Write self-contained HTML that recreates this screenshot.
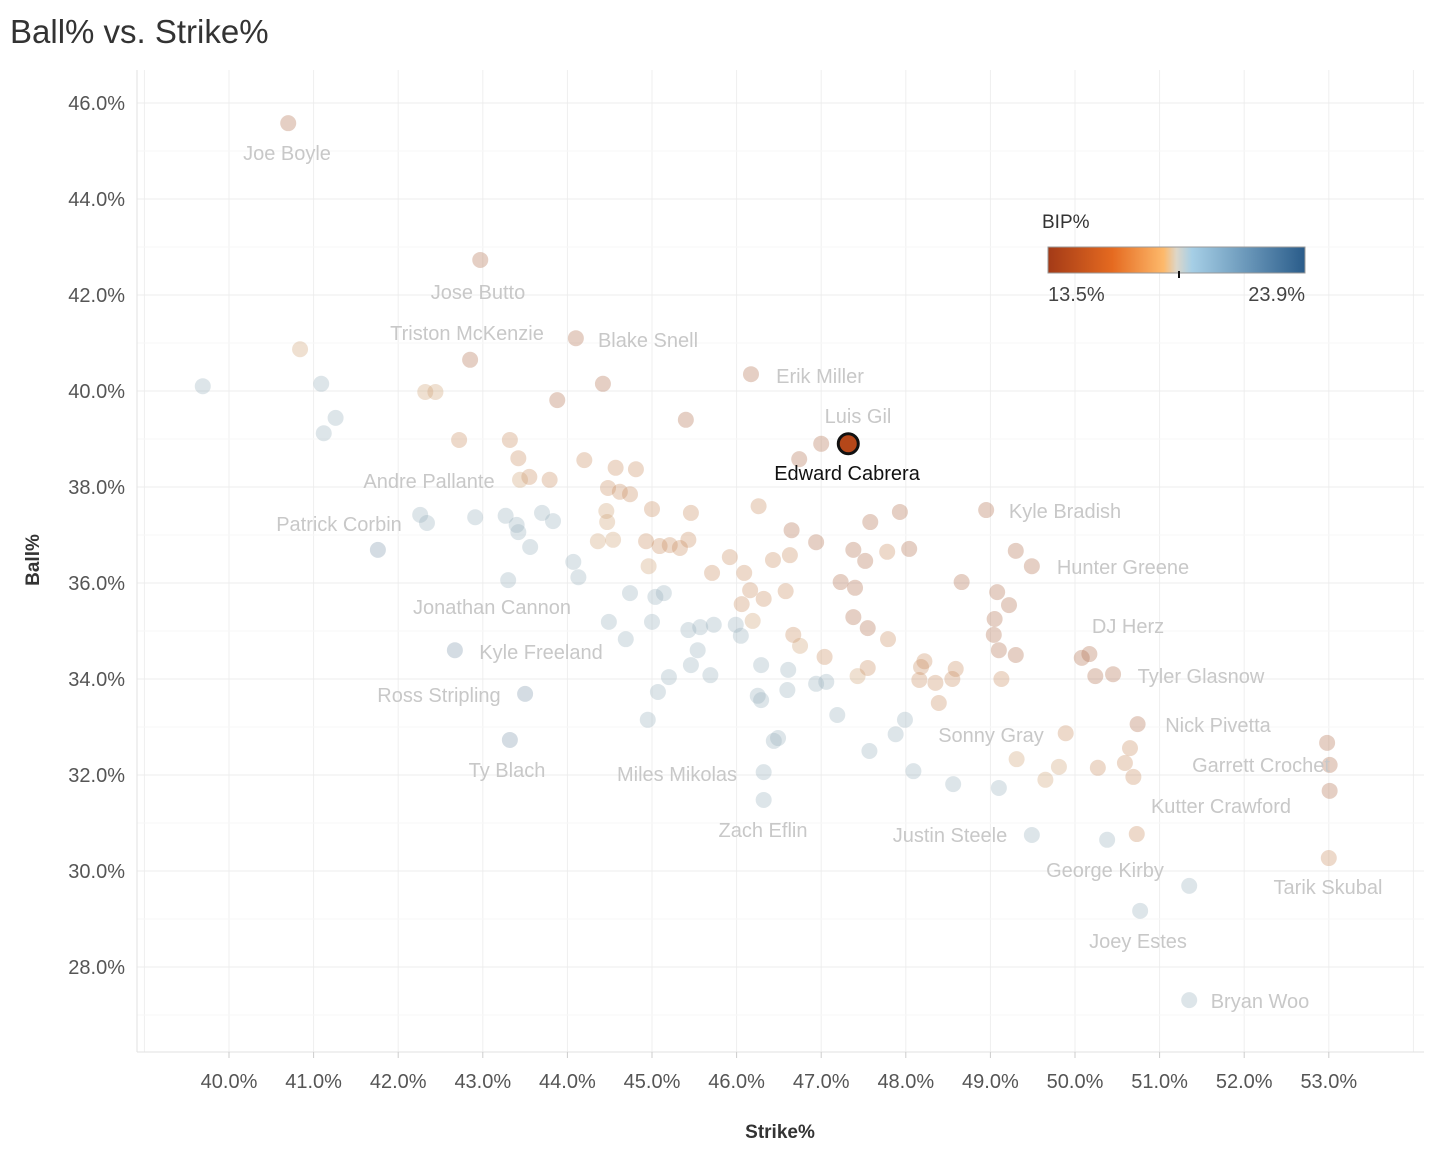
<!DOCTYPE html>
<html><head><meta charset="utf-8">
<style>
html,body{margin:0;padding:0;background:#fff;}
body{width:1448px;height:1160px;overflow:hidden;font-family:"Liberation Sans",sans-serif;}
svg text{font-family:"Liberation Sans",sans-serif;}
</style></head>
<body>
<svg id="chart" width="1448" height="1160" viewBox="0 0 1448 1160" xmlns="http://www.w3.org/2000/svg">
<defs>
<linearGradient id="bipgrad" x1="0" x2="1" y1="0" y2="0">
<stop offset="0" stop-color="#a33a17"/>
<stop offset="0.25" stop-color="#e56a20"/>
<stop offset="0.45" stop-color="#fdb96b"/>
<stop offset="0.5" stop-color="#ddd6c8"/>
<stop offset="0.56" stop-color="#a6cfe6"/>
<stop offset="1" stop-color="#2a5c8a"/>
</linearGradient>
</defs>
<text x="10" y="43" font-size="33" fill="#333">Ball% vs. Strike%</text>
<g id="grid"></g>
<g id="axes"></g>
<g id="points"></g>
<g id="labels"></g>
<text transform="translate(39,560) rotate(-90)" text-anchor="middle" font-size="19" font-weight="bold" fill="#333">Ball%</text>
<text x="780" y="1138" text-anchor="middle" font-size="19" font-weight="bold" fill="#333">Strike%</text>
<g>
<text x="1042" y="228" font-size="19" fill="#333">BIP%</text>
<rect x="1048" y="247" width="257" height="26" fill="url(#bipgrad)" stroke="#999" stroke-width="1"/>
<line x1="1179" x2="1179" y1="271" y2="278" stroke="#111" stroke-width="2"/>
<text x="1048" y="301" font-size="20" fill="#444">13.5%</text>
<text x="1305" y="301" text-anchor="end" font-size="20" fill="#444">23.9%</text>
</g>
</svg>
<script>
const xTicks = [40,41,42,43,44,45,46,47,48,49,50,51,52,53];
const yTicks = [28,30,32,34,36,38,40,42,44,46];
const strike = [40.70,42.97,44.10,44.42,42.85,46.17,45.40,43.88,47.00,46.74,47.58,47.93,48.04,46.65,46.94,48.95,49.30,49.49,48.66,49.08,49.22,49.05,49.04,49.10,49.30,50.08,50.17,50.24,50.45,50.74,52.98,53.01,53.01,47.38,47.52,47.40,47.23,47.55,47.38,
53.00,50.65,50.59,50.69,50.27,49.89,50.73,49.13,48.39,48.35,48.16,48.18,48.22,48.55,48.59,47.78,47.79,47.55,46.26,45.92,46.09,46.16,46.06,46.32,46.58,46.43,46.63,45.71,45.43,45.33,45.21,45.09,45.46,45.00,44.93,44.57,44.81,44.48,44.62,44.74,44.20,43.79,43.55,43.42,43.32,42.72,46.67,47.04,
49.31,49.81,49.65,42.32,42.44,40.84,44.46,44.47,44.54,47.43,46.75,46.19,44.96,43.44,44.36,
39.69,41.09,41.26,41.12,42.26,42.34,42.91,43.27,43.40,43.42,43.56,43.70,43.83,44.07,44.13,43.30,44.74,45.04,45.14,44.49,44.69,45.00,45.43,45.57,45.73,45.99,46.05,45.54,45.46,45.20,45.69,46.29,46.61,46.25,46.29,46.60,45.07,44.95,46.44,46.49,46.94,47.06,47.19,47.57,47.88,47.99,48.09,48.56,49.10,49.49,50.38,51.35,50.77,51.35,46.32,46.32,
41.76,42.67,43.50,43.32];
const ball = [45.58,42.73,41.10,40.15,40.65,40.35,39.40,39.81,38.90,38.58,37.27,37.48,36.71,37.10,36.85,37.52,36.67,36.35,36.02,35.81,35.54,35.25,34.92,34.60,34.50,34.44,34.52,34.06,34.10,33.06,32.67,32.21,31.67,36.69,36.46,35.90,36.02,35.06,35.29,
30.27,32.56,32.25,31.96,32.15,32.87,30.77,34.00,33.50,33.92,33.98,34.25,34.37,34.00,34.21,36.65,34.83,34.23,37.60,36.54,36.21,35.85,35.56,35.67,35.83,36.48,36.58,36.21,36.90,36.73,36.79,36.77,37.46,37.54,36.87,38.40,38.37,37.98,37.90,37.85,38.56,38.15,38.21,38.60,38.98,38.98,34.92,34.46,
32.33,32.17,31.90,39.98,39.98,40.87,37.50,37.27,36.90,34.06,34.69,35.21,36.35,38.15,36.87,
40.10,40.15,39.44,39.12,37.42,37.25,37.37,37.40,37.21,37.06,36.75,37.46,37.29,36.44,36.12,36.06,35.79,35.71,35.79,35.19,34.83,35.19,35.02,35.08,35.13,35.13,34.90,34.60,34.29,34.04,34.08,34.29,34.19,33.65,33.56,33.77,33.73,33.15,32.71,32.77,33.90,33.94,33.25,32.50,32.85,33.15,32.08,31.81,31.73,30.75,30.65,29.69,29.17,27.31,32.06,31.48,
36.69,34.60,33.69,32.73];
const bip = [].concat(
  Array(39).fill(14.8),
  Array(48).fill(16.8),
  Array(15).fill(17.8),
  Array(56).fill(19.8),
  Array(4).fill(21.5));
const highlightStrike = [47.32];
const highlightBall = [38.90];
const highlightBip = [14.2];

const NS = "http://www.w3.org/2000/svg";
function xScale(v){ return 229 + (v - 40) * 84.6; }
function yScale(v){ return 103 + (46 - v) * 48; }
const stops = [[0,[163,58,23]],[0.25,[229,106,32]],[0.45,[253,185,107]],[0.5,[221,214,200]],[0.56,[166,207,230]],[1,[42,92,138]]];
function colorFor(b, mute){
  let t = Math.max(0, Math.min(1, (b - 13.5) / (23.9 - 13.5)));
  for (let i = 1; i < stops.length; i++){
    if (t <= stops[i][0]){
      const a = stops[i-1], c = stops[i];
      const f = (t - a[0]) / (c[0] - a[0]);
      let rgb = a[1].map((v,k)=>Math.round(v + (c[1][k]-v)*f));
      if (mute) rgb = rgb.map(v => Math.round(v*0.6 + 140*0.4));
      return "rgb(" + rgb.join(",") + ")";
    }
  }
  return "rgb(42,92,138)";
}
function mk(tag, attrs, parent){
  const e = document.createElementNS(NS, tag);
  for (const k in attrs) e.setAttribute(k, attrs[k]);
  parent.appendChild(e);
  return e;
}
const grid = document.getElementById("grid");
const axes = document.getElementById("axes");
for (let v = 39; v <= 54; v++){
  const l = mk("line", {x1:xScale(v), x2:xScale(v), y1:70, y2:1052, stroke:"#efefef", "stroke-width":1}, grid);
  
  
}
for (let v = 27; v <= 46; v++){
  const l = mk("line", {x1:137, x2:1424, y1:yScale(v), y2:yScale(v), stroke: v % 2 === 0 ? "#ececec" : "#f7f7f7", "stroke-width":1}, grid);
  
  
}
const ax1 = mk("line", {x1:137, x2:137, y1:70, y2:1052, stroke:"#e2e2e2"}, axes);


const ax2 = mk("line", {x1:137, x2:1424, y1:1052, y2:1052, stroke:"#e2e2e2"}, axes);


xTicks.forEach(v => {
  const tk = mk("line", {x1:xScale(v), x2:xScale(v), y1:1052, y2:1058, stroke:"#ccc"}, axes);
  
  
  const t = mk("text", {x:xScale(v), y:1088, "text-anchor":"middle", "font-size":20, fill:"#555"}, axes);
  t.textContent = v.toFixed(1) + "%";
  
  
});
yTicks.forEach(v => {
  const t = mk("text", {x:125, y:yScale(v)+7, "text-anchor":"end", "font-size":20, fill:"#555"}, axes);
  t.textContent = v.toFixed(1) + "%";
  
  
});
const pts = document.getElementById("points");
strike.forEach((s, i) => {
  const c = mk("circle", {cx:xScale(s), cy:yScale(ball[i]), r:8, fill:colorFor(bip[i], true), "fill-opacity":0.32}, pts);
  
  
});
highlightStrike.forEach((s, i) => {
  const c = mk("circle", {cx:xScale(s), cy:yScale(highlightBall[i]), r:10, fill:colorFor(highlightBip[i], false), stroke:"#111", "stroke-width":3}, pts);
  
  
});
const labelNames = ["Joe Boyle","Jose Butto","Triston McKenzie","Blake Snell","Erik Miller","Luis Gil","Edward Cabrera","Andre Pallante","Patrick Corbin","Kyle Bradish","Hunter Greene","Jonathan Cannon","Kyle Freeland","DJ Herz","Tyler Glasnow","Ross Stripling","Nick Pivetta","Sonny Gray","Garrett Crochet","Ty Blach","Miles Mikolas","Kutter Crawford","Zach Eflin","Justin Steele","George Kirby","Tarik Skubal","Joey Estes","Bryan Woo"];
const labelPos = [[287,153],[478,292],[467,333],[648,340],[820,376],[858,416],[847,473],[429,481],[339,524],[1065,511],[1123,567],[492,607],[541,652],[1128,626],[1201,676],[439,695],[1218,725],[991,735],[1261,765],[507,770],[677,774],[1221,806],[763,830],[950,835],[1105,870],[1328,887],[1138,941],[1260,1001]];
const lbl = document.getElementById("labels");
labelNames.forEach((n, i) => {
  const t = mk("text", {x:labelPos[i][0], y:labelPos[i][1]+7, "text-anchor":"middle", "font-size":20, fill: n === "Edward Cabrera" ? "#111" : "#c8c8c8"}, lbl);
  t.textContent = n;
  
  
});
</script>
</body></html>
